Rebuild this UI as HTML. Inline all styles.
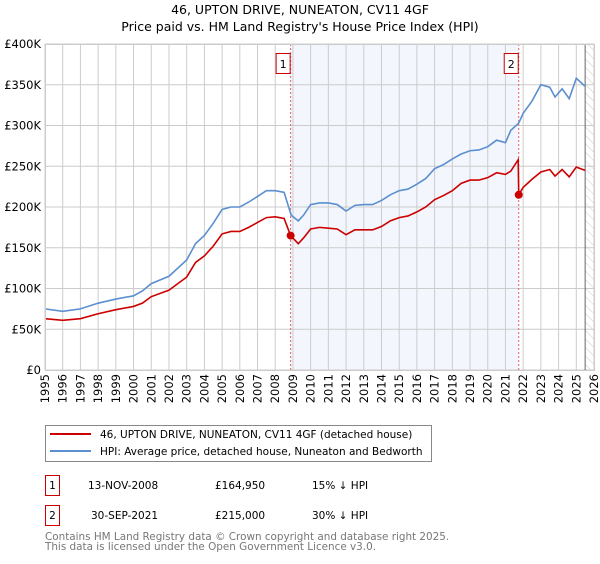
<!DOCTYPE html>
<html><head><meta charset="utf-8"><style>
body{margin:0;background:#fff;font-family:"DejaVu Sans","Liberation Sans",sans-serif;}
svg text{font-family:"DejaVu Sans","Liberation Sans",sans-serif;}
</style></head><body>
<svg id="c" width="600" height="560" viewBox="0 0 600 560" xmlns="http://www.w3.org/2000/svg">
<defs><pattern id="hatch" width="6" height="6" patternUnits="userSpaceOnUse" patternTransform="rotate(-45)"><line x1="0" y1="0" x2="0" y2="6" stroke="#ccc" stroke-width="1"/></pattern></defs>
<text x="300" y="14" text-anchor="middle" font-size="12.5" fill="#000">46, UPTON DRIVE, NUNEATON, CV11 4GF</text>
<text x="300" y="31" text-anchor="middle" font-size="12.5" fill="#000">Price paid vs. HM Land Registry's House Price Index (HPI)</text>
<g id="plot"></g>
<g>
<rect x="45.5" y="425.5" width="386" height="36" fill="#fff" stroke="#888"/>
<line x1="50" y1="434" x2="91" y2="434" stroke="#cc0000" stroke-width="2"/>
<text x="100" y="438" font-size="10.5">46, UPTON DRIVE, NUNEATON, CV11 4GF (detached house)</text>
<line x1="50" y1="451" x2="91" y2="451" stroke="#5b8fd0" stroke-width="2"/>
<text x="100" y="455" font-size="10.5">HPI: Average price, detached house, Nuneaton and Bedworth</text>
</g>
<g>
<rect x="45.5" y="475.5" width="14" height="20" fill="#fff" stroke="#cc0000"/>
<text x="52.5" y="489" font-size="10.5" text-anchor="middle">1</text>
<text x="88" y="489" font-size="10.5">13-NOV-2008</text>
<text x="215" y="489" font-size="10.5">£164,950</text>
<text x="312" y="489" font-size="10.5">15% ↓ HPI</text>
</g>
<g>
<rect x="45.5" y="505.5" width="14" height="20" fill="#fff" stroke="#cc0000"/>
<text x="52.5" y="519" font-size="10.5" text-anchor="middle">2</text>
<text x="91" y="519" font-size="10.5">30-SEP-2021</text>
<text x="215" y="519" font-size="10.5">£215,000</text>
<text x="312" y="519" font-size="10.5">30% ↓ HPI</text>
</g>
<text x="45" y="540" font-size="10.4" fill="#777">Contains HM Land Registry data © Crown copyright and database right 2025.</text>
<text x="45" y="550" font-size="10.4" fill="#777">This data is licensed under the Open Government Licence v3.0.</text>
</svg>
<script>
const hpiYears=[1995,1996,1997,1998,1999,2000,2000.5,2001,2002,2002.5,2003,2003.5,2004,2004.5,2005,2005.5,2006,2006.5,2007,2007.5,2008,2008.5,2008.9,2009.3,2009.6,2010,2010.5,2011,2011.5,2012,2012.5,2013,2013.5,2014,2014.5,2015,2015.5,2016,2016.5,2017,2017.5,2018,2018.5,2019,2019.5,2020,2020.5,2021,2021.3,2021.75,2022,2022.5,2023,2023.5,2023.8,2024.2,2024.6,2025,2025.5];
const hpiValues=[75,72,75,82,87,91,97,106,115,125,135,155,165,180,197,200,200,206,213,220,220,218,190,183,190,203,205,205,203,195,202,203,203,208,215,220,222,228,235,247,252,259,265,269,270,274,282,279,294,303,315,330,350,347,335,345,333,358,348];
const ppYears=[1995,1996,1997,1998,1999,2000,2000.5,2001,2002,2002.5,2003,2003.5,2004,2004.5,2005,2005.5,2006,2006.5,2007,2007.5,2008,2008.5,2008.87,2009.3,2009.6,2010,2010.5,2011,2011.5,2012,2012.5,2013,2013.5,2014,2014.5,2015,2015.5,2016,2016.5,2017,2017.5,2018,2018.5,2019,2019.5,2020,2020.5,2021,2021.3,2021.72,2021.75,2022,2022.5,2023,2023.5,2023.8,2024.2,2024.6,2025,2025.5];
const ppValues=[63,61,63,69,74,78,82,90,98,106,114,132,140,152,167,170,170,175,181,187,188,186,164.95,155,162,173,175,174,173,166,172,172,172,176,183,187,189,194,200,209,214,220,229,233,233,236,242,240,244,258,215,224,234,243,246,238,246,237,249,245];
const saleYears=[2008.87,2021.75];
const saleValues=[164.95,215];
const saleLabels=["1","2"];
const yTicks=[0,50,100,150,200,250,300,350,400];
const yTickLabels=["£0","£50K","£100K","£150K","£200K","£250K","£300K","£350K","£400K"];
const xTicks=[1995,1996,1997,1998,1999,2000,2001,2002,2003,2004,2005,2006,2007,2008,2009,2010,2011,2012,2013,2014,2015,2016,2017,2018,2019,2020,2021,2022,2023,2024,2025,2026];

const NS="http://www.w3.org/2000/svg";
const L=45,R=594,T=44,B=370;
const xs=y=>L+(y-1995)/(2026-1995)*(R-L);
const ys=v=>B-v/400*(B-T);
const g=document.getElementById('plot');
function mk(t,a,p){const e=document.createElementNS(NS,t);for(const k in a)e.setAttribute(k,a[k]);(p||g).appendChild(e);return e;}
let e;
e=mk('rect',{x:xs(saleYears[0]),y:T,width:xs(saleYears[1])-xs(saleYears[0]),height:B-T,fill:'#eef2fc',opacity:0.7});


e=mk('rect',{x:xs(2025.5),y:T,width:R-xs(2025.5),height:B-T,fill:'url(#hatch)'});


yTicks.forEach((v,i)=>{
 e=mk('line',{x1:L,x2:R,y1:ys(v),y2:ys(v),stroke:'#cccccc'});
 
 
 e=mk('text',{x:L-4,y:ys(v)+4,'text-anchor':'end','font-size':'11.5'});e.textContent=yTickLabels[i];
 
 
});
xTicks.forEach(y=>{
 e=mk('line',{x1:xs(y),x2:xs(y),y1:T,y2:B,stroke:'#cccccc'});
 
 
 e=mk('text',{x:0,y:0,'font-size':'11.5','text-anchor':'end',transform:`translate(${xs(y)+4},${B+4}) rotate(-90)`});e.textContent=y;
 
 
});
e=mk('line',{x1:xs(2025.5),x2:xs(2025.5),y1:T,y2:B,stroke:'#666'});


saleYears.forEach((y,i)=>{
 e=mk('line',{x1:xs(y),x2:xs(y),y1:T,y2:B,stroke:'#e06060','stroke-dasharray':'2,2'});
 
 
});
e=mk('polyline',{points:hpiYears.map((y,i)=>xs(y)+','+ys(hpiValues[i])).join(' '),fill:'none',stroke:'#5b8fd0','stroke-width':1.6});


e=mk('polyline',{points:ppYears.map((y,i)=>xs(y)+','+ys(ppValues[i])).join(' '),fill:'none',stroke:'#cc0000','stroke-width':1.6});


saleYears.forEach((y,i)=>{
 e=mk('circle',{cx:xs(y),cy:ys(saleValues[i]),r:4,fill:'#cc0000'});
 
 
 e=mk('rect',{x:xs(y)-14.5,y:53.5,width:14,height:20,fill:'#fff',stroke:'#cc0000'});
 
 
 e=mk('text',{x:xs(y)-7.5,y:68,'font-size':'11','text-anchor':'middle'});e.textContent=saleLabels[i];
 
 
});
e=mk('rect',{x:L+0.5,y:T+0.5,width:R-L,height:B-T,fill:'none',stroke:'#cccccc'});


</script>
</body></html>
